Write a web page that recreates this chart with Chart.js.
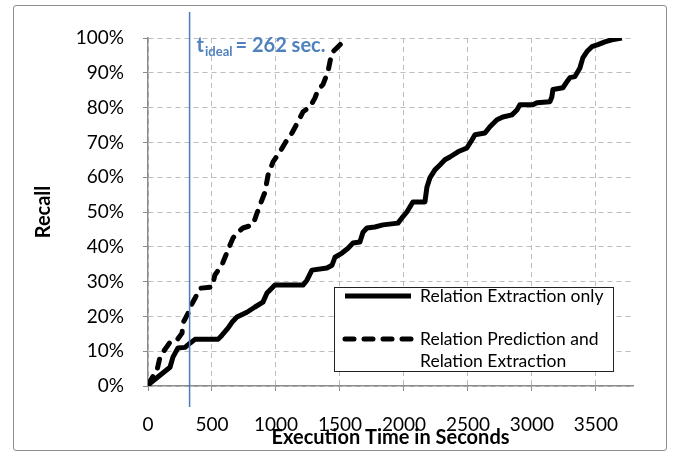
<!DOCTYPE html>
<html>
<head>
<meta charset="utf-8">
<script src="https://cdn.jsdelivr.net/npm/chart.js@4.4.0/dist/chart.umd.min.js"></script>
<style>
    html, body { margin: 0; padding: 0; background: #fff; }
    #wrap { position: relative; width: 680px; height: 456px; }
    #frame { position: absolute; left: 13px; top: 5px; width: 654px; height: 446px;
             border: 1px solid #8e8e8e; border-radius: 3px; box-sizing: border-box; }
    canvas { position: absolute; left: 0; top: 0; }
</style>
</head>
<body>
<div id="wrap">
    <div id="frame"></div>
    <canvas id="chart" width="680" height="456"></canvas>
</div>
<script>
// Relation Extraction only (solid)
const solidTime = [0, 16, 94, 172, 195, 234, 289, 328, 367, 547, 578, 625, 656, 695, 773, 836, 898, 930, 992,
    1211, 1242, 1281, 1398, 1438, 1461, 1516, 1563, 1602, 1656, 1680, 1711, 1773, 1836, 1953, 1984, 2023,
    2070, 2164, 2180, 2203, 2242, 2281, 2320, 2359, 2422, 2492, 2531, 2555, 2633, 2672, 2727, 2773, 2844,
    2883, 2906, 3008, 3039, 3141, 3156, 3164, 3242, 3273, 3297, 3336, 3375, 3398, 3430, 3469, 3516, 3570,
    3625, 3703];
const solidRecall = [0, 0.8, 3.1, 5.4, 8.3, 10.9, 11.1, 12.3, 13.4, 13.4, 14.6, 16.6, 18.3, 19.8, 21.2, 22.7, 24.1, 26.7, 29.0,
    29.0, 30.4, 33.3, 33.9, 34.7, 37.0, 38.2, 39.6, 41.1, 41.4, 44.2, 45.4, 45.7, 46.3, 46.8, 48.3, 50.0,
    52.9, 52.9, 57.2, 59.8, 62.1, 63.5, 65.0, 65.8, 67.3, 68.4, 70.7, 72.2, 72.7, 74.5, 76.5, 77.3, 77.9,
    79.3, 80.8, 80.8, 81.4, 81.7, 83.1, 85.2, 85.7, 87.4, 88.6, 88.9, 91.4, 94.3, 96.1, 97.5, 98.1, 98.9,
    99.5, 100];

// Relation Prediction and Relation Extraction (dashed)
const dashedTime = [0, 70, 94, 117, 172, 227, 266, 273, 313, 328, 367, 406, 500, 523, 578, 602, 625, 664, 703,
    742, 820, 852, 875, 914, 938, 977, 1031, 1086, 1125, 1172, 1211, 1266, 1305, 1328, 1367, 1406, 1422,
    1438, 1477, 1531];
const dashedRecall = [0.5, 4.5, 8.3, 9.7, 12.6, 13.2, 15.2, 18.1, 20.9, 22.6, 25.2, 28.1, 28.4, 31.9, 34.8, 37.0, 39.1, 42.5, 44.2,
    45.4, 46.3, 49.7, 52.0, 55.7, 60.6, 64.4, 67.3, 70.7, 72.7, 75.9, 78.8, 80.2, 82.8, 85.1, 86.6, 90.3, 93.2,
    95.8, 97.2, 99.2];

const xTicks = [0, 500, 1000, 1500, 2000, 2500, 3000, 3500];
const legendLines = [['Relation Extraction only'], ['Relation Prediction and', 'Relation Extraction']];
const idealTime = 325;      // where the blue marker sits on the x axis
const idealLabel = '262';   // the text printed next to it
const xMax = 3790;

const toPoints = (xs, ys) => xs.map((x, i) => ({ x: x, y: ys[i] }));

const FONT = 'Lato, "DejaVu Sans", sans-serif';

const overlay = {
    id: 'overlay',
    afterDatasetsDraw(chart) {
        const { ctx, chartArea, scales: { x } } = chart;
        const px = x.getPixelForValue(idealTime);
        ctx.save();

        // t_ideal marker
        ctx.strokeStyle = '#4a7ebb';
        ctx.lineWidth = 1.5;
        ctx.beginPath();
        ctx.moveTo(px, 12);
        ctx.lineTo(px, chartArea.bottom + 21);
        ctx.stroke();

        ctx.fillStyle = '#4f81bd';
        ctx.textBaseline = 'alphabetic';
        ctx.textAlign = 'left';
        let tx = px + 7;
        const ty = 52;
        ctx.font = 'bold 20px ' + FONT;
        ctx.fillText('t', tx, ty);
        tx += ctx.measureText('t').width + 1;
        ctx.font = 'bold 13px ' + FONT;
        ctx.fillText('ideal', tx, ty + 4);
        tx += ctx.measureText('ideal').width + 3;
        ctx.font = 'bold 20px ' + FONT;
        ctx.fillText('= ' + idealLabel + ' sec.', tx, ty);

        // legend box
        const lx = 334, ly = 287, lw = 279, lh = 84;
        ctx.fillStyle = '#fff';
        ctx.fillRect(lx, ly, lw, lh);
        ctx.strokeStyle = '#222';
        ctx.lineWidth = 1;
        ctx.strokeRect(lx + 0.5, ly + 0.5, lw, lh);

        const rows = [296, 339];
        chart.data.datasets.forEach((ds, i) => {
            ctx.strokeStyle = '#000';
            ctx.lineWidth = 5;
            ctx.lineCap = ds.borderDash.length ? 'round' : 'butt';
            ctx.setLineDash(ds.borderDash);
            ctx.beginPath();
            ctx.moveTo(345, rows[i]);
            ctx.lineTo(411, rows[i]);
            ctx.stroke();
            ctx.setLineDash([]);
            ctx.fillStyle = '#000';
            ctx.font = '17.5px ' + FONT;
            ctx.textBaseline = 'middle';
            legendLines[i].forEach((t, j) => ctx.fillText(t, 420, rows[i] + j * 22));
        });
        ctx.restore();
    }
};

new Chart(document.getElementById('chart'), {
    type: 'line',
    data: {
        datasets: [
            {
                label: legendLines[0].join(' '),
                data: toPoints(solidTime, solidRecall),
                borderColor: '#000',
                borderWidth: 5,
                borderDash: [],
                borderJoinStyle: 'round',
                pointRadius: 0,
                tension: 0,
            },
            {
                label: legendLines[1].join(' '),
                data: toPoints(dashedTime, dashedRecall),
                borderColor: '#000',
                borderWidth: 5,
                borderDash: [9, 10],
                borderCapStyle: 'round',
                borderJoinStyle: 'round',
                pointRadius: 0,
                tension: 0,
            }
        ]
    },
    options: {
        responsive: false,
        animation: false,
        layout: { padding: { top: 38, right: 47, left: 0, bottom: 0 } },
        plugins: { legend: { display: false }, tooltip: { enabled: false } },
        scales: {
            x: {
                type: 'linear',
                min: 0,
                max: xMax,
                afterBuildTicks: s => { s.ticks = xTicks.map(v => ({ value: v })); },
                afterFit: s => { s.height = 70; },
                ticks: { autoSkip: false, color: '#000', padding: 22,
                         maxRotation: 0, font: { family: FONT, size: 19 },
                         callback: v => String(v) },
                grid: { color: '#bdbdbd', tickColor: '#8c8c8c', tickLength: 5, tickBorderDash: [] },
                border: { color: '#8c8c8c', width: 1.5, dash: [5, 4] },
                title: { display: true, text: 'Execution Time in Seconds', color: '#000',
                         font: { family: FONT, size: 20, weight: 'bold' }, padding: { bottom: 6 } }
            },
            y: {
                min: 0,
                max: 100,
                afterFit: s => { s.width = 148; },
                ticks: { stepSize: 10, color: '#000', padding: 19,
                         font: { family: FONT, size: 19 },
                         callback: v => v + '%' },
                grid: { color: '#bdbdbd', tickColor: '#8c8c8c', tickLength: 5, tickBorderDash: [] },
                border: { color: '#8c8c8c', width: 1.5, dash: [5, 4] },
                title: { display: true, text: 'Recall', color: '#000',
                         font: { family: FONT, size: 20, weight: 'bold' }, padding: { top: 32 } }
            }
        }
    },
    plugins: [overlay]
});
</script>
</body>
</html>
